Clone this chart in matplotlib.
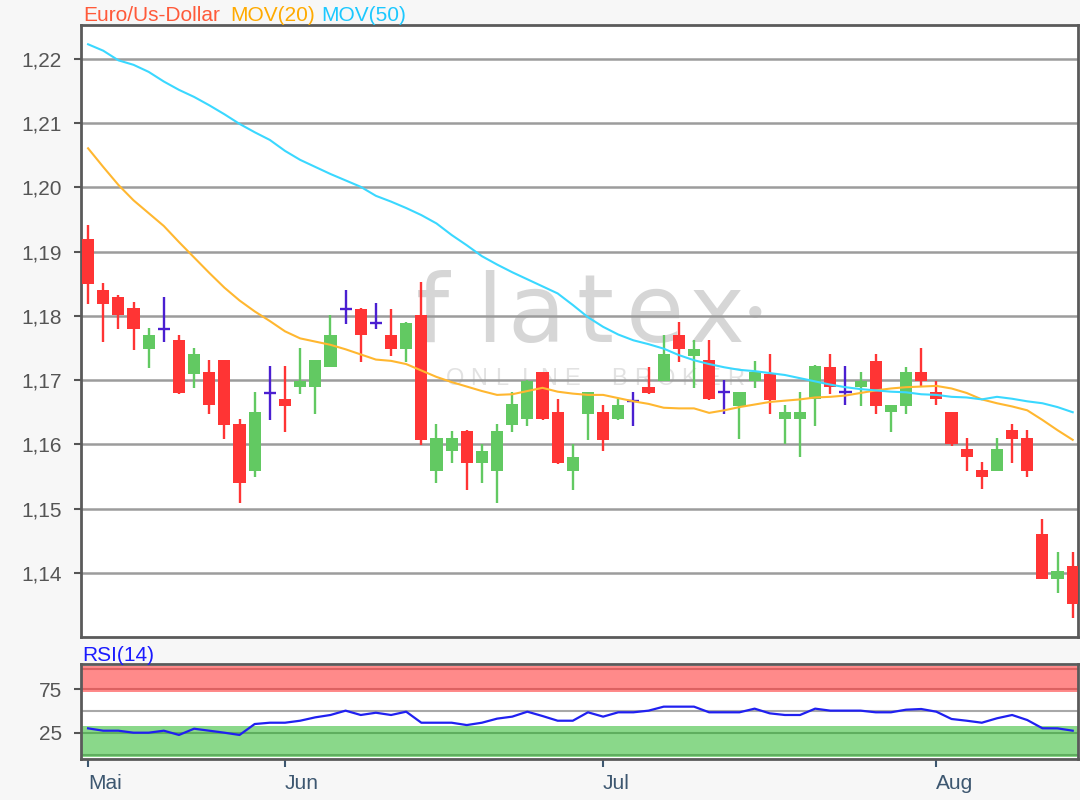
import numpy as np
import pandas as pd
import matplotlib
matplotlib.use('Agg')
import matplotlib.pyplot as plt
from matplotlib.ticker import FuncFormatter

# ---------------- data ----------------
dates = pd.bdate_range('2018-05-15', '2018-08-14')
month_labels = ['Mai', 'Jun', 'Jul', 'Aug']

open_ = [1.1920, 1.1840, 1.1830, 1.1812, 1.1748, 1.1780, 1.1762, 1.1710, 1.1712, 1.1731,
         1.1632, 1.1558, 1.1680, 1.1671, 1.1689, 1.1689, 1.1721, 1.1811, 1.1811, 1.1789,
         1.1771, 1.1748, 1.1802, 1.1559, 1.1589, 1.1621, 1.1571, 1.1559, 1.1630, 1.1639,
         1.1712, 1.1650, 1.1559, 1.1648, 1.1650, 1.1639, 1.1667, 1.1690, 1.1699, 1.1771,
         1.1738, 1.1731, 1.1681, 1.1660, 1.1698, 1.1710, 1.1639, 1.1639, 1.1670, 1.1721,
         1.1681, 1.1690, 1.1730, 1.1650, 1.1660, 1.1712, 1.1681, 1.1650, 1.1592, 1.1560,
         1.1559, 1.1622, 1.1610, 1.1461, 1.1391, 1.1411]
high = [1.1942, 1.1851, 1.1832, 1.1821, 1.1781, 1.1830, 1.1771, 1.1750, 1.1731, 1.1732,
        1.1640, 1.1681, 1.1722, 1.1722, 1.1750, 1.1732, 1.1802, 1.1840, 1.1812, 1.1820,
        1.1811, 1.1790, 1.1853, 1.1631, 1.1621, 1.1622, 1.1600, 1.1631, 1.1681, 1.1700,
        1.1713, 1.1671, 1.1600, 1.1682, 1.1662, 1.1670, 1.1681, 1.1721, 1.1771, 1.1790,
        1.1762, 1.1762, 1.1700, 1.1682, 1.1730, 1.1741, 1.1662, 1.1682, 1.1723, 1.1741,
        1.1722, 1.1712, 1.1740, 1.1662, 1.1721, 1.1750, 1.1699, 1.1651, 1.1610, 1.1573,
        1.1610, 1.1632, 1.1622, 1.1483, 1.1433, 1.1433]
low = [1.1819, 1.1760, 1.1779, 1.1747, 1.1719, 1.1760, 1.1679, 1.1688, 1.1648, 1.1608,
       1.1509, 1.1549, 1.1638, 1.1620, 1.1679, 1.1648, 1.1720, 1.1788, 1.1728, 1.1779,
       1.1738, 1.1728, 1.1599, 1.1540, 1.1571, 1.1529, 1.1540, 1.1509, 1.1620, 1.1629,
       1.1638, 1.1570, 1.1529, 1.1607, 1.1589, 1.1638, 1.1629, 1.1679, 1.1699, 1.1728,
       1.1688, 1.1669, 1.1647, 1.1608, 1.1688, 1.1647, 1.1600, 1.1580, 1.1629, 1.1679,
       1.1661, 1.1660, 1.1647, 1.1620, 1.1647, 1.1690, 1.1661, 1.1598, 1.1559, 1.1531,
       1.1558, 1.1571, 1.1549, 1.1390, 1.1369, 1.1329]
close = [1.1850, 1.1819, 1.1801, 1.1779, 1.1771, 1.1780, 1.1680, 1.1740, 1.1661, 1.1630,
         1.1540, 1.1650, 1.1680, 1.1660, 1.1699, 1.1731, 1.1771, 1.1811, 1.1770, 1.1789,
         1.1748, 1.1789, 1.1607, 1.1610, 1.1610, 1.1571, 1.1590, 1.1621, 1.1663, 1.1699,
         1.1639, 1.1571, 1.1581, 1.1681, 1.1607, 1.1662, 1.1667, 1.1680, 1.1740, 1.1748,
         1.1749, 1.1670, 1.1681, 1.1681, 1.1713, 1.1669, 1.1650, 1.1650, 1.1722, 1.1690,
         1.1681, 1.1698, 1.1660, 1.1661, 1.1712, 1.1698, 1.1671, 1.1600, 1.1580, 1.1549,
         1.1592, 1.1609, 1.1559, 1.1391, 1.1402, 1.1351]

mov20 = [1.2061, 1.2032, 1.2004, 1.1980, 1.1960, 1.1940, 1.1915, 1.1891, 1.1867, 1.1844,
         1.1824, 1.1807, 1.1792, 1.1776, 1.1765, 1.1760, 1.1755, 1.1748, 1.1740, 1.1732,
         1.1730, 1.1725, 1.1715, 1.1705, 1.1697, 1.1690, 1.1683, 1.1677, 1.1678, 1.1683,
         1.1688, 1.1682, 1.1679, 1.1677, 1.1677, 1.1672, 1.1667, 1.1663, 1.1657, 1.1656,
         1.1656, 1.1649, 1.1653, 1.1658, 1.1662, 1.1666, 1.1668, 1.1670, 1.1673, 1.1674,
         1.1676, 1.1680, 1.1684, 1.1687, 1.1689, 1.1690, 1.1691, 1.1687, 1.1680, 1.1670,
         1.1664, 1.1659, 1.1653, 1.1638, 1.1622, 1.1607]
mov50 = [1.2223, 1.2213, 1.2198, 1.2191, 1.2180, 1.2165, 1.2152, 1.2141, 1.2128, 1.2114,
         1.2099, 1.2086, 1.2074, 1.2057, 1.2043, 1.2032, 1.2021, 1.2011, 1.2001, 1.1987,
         1.1978, 1.1968, 1.1957, 1.1944, 1.1926, 1.1910, 1.1893, 1.1880, 1.1868, 1.1857,
         1.1846, 1.1835, 1.1817, 1.1798, 1.1783, 1.1771, 1.1762, 1.1756, 1.1749, 1.1739,
         1.1731, 1.1725, 1.1720, 1.1716, 1.1714, 1.1711, 1.1708, 1.1703, 1.1698, 1.1693,
         1.1689, 1.1686, 1.1684, 1.1682, 1.1681, 1.1678, 1.1677, 1.1674, 1.1673, 1.1670,
         1.1674, 1.1671, 1.1667, 1.1664, 1.1658, 1.1650]

rsi14 = [30.0, 27.3, 27.3, 25.0, 25.0, 27.3, 22.4, 29.6, 27.3, 25.0,
         22.4, 35.0, 36.5, 36.5, 38.8, 42.7, 45.4, 50.4, 45.4, 48.0,
         45.4, 49.2, 36.5, 36.5, 36.5, 33.8, 36.5, 41.2, 43.5, 49.2,
         44.2, 38.8, 38.8, 48.5, 43.5, 48.5, 48.5, 50.4, 55.0, 55.0,
         55.0, 48.5, 48.5, 48.5, 52.7, 47.3, 45.4, 45.4, 52.7, 50.4,
         50.4, 50.4, 48.5, 48.5, 51.5, 52.3, 49.2, 40.8, 38.8, 36.5,
         41.6, 45.4, 39.6, 30.1, 30.0, 27.3]

price_ticks = [1.14, 1.15, 1.16, 1.17, 1.18, 1.19, 1.20, 1.21, 1.22]
rsi_ticks = [25, 75]

# ---------------- figure ----------------
plt.rcParams['font.family'] = ['Liberation Sans', 'DejaVu Sans']
W, H = 1080, 800
FS = 15
fig = plt.figure(figsize=(W / 100, H / 100), dpi=100, facecolor='#f7f7f7')


def rect(l, t, r, b):
    return [l / W, 1 - b / H, (r - l) / W, (b - t) / H]


ax = fig.add_axes(rect(80.5, 25, 1078, 637))
axr = fig.add_axes(rect(80.5, 664.3, 1078, 759), sharex=ax)

x = np.arange(len(dates))
o = np.array(open_)
c = np.array(close)
h = np.array(high)
l = np.array(low)
up = c > o
dn = c < o
eq = c == o

red, green, blue = '#ff3434', '#62c962', '#4a1fd1'
cols = np.where(up, green, np.where(dn, red, blue))


# watermark
def px2ax(px, py):
    return ((px - 80.5) / (1078 - 80.5), (637 - py) / (637 - 25))


for ch, px in zip('flatex', [432, 489, 536, 595, 655, 716]):
    ax.text(*px2ax(px, 342), ch, transform=ax.transAxes, fontsize=68,
            color='#d6d6d6', ha='center', va='baseline',
            zorder=0.2, family='DejaVu Sans')
ax.text(*px2ax(755, 328), '•', transform=ax.transAxes, fontsize=30,
        color='#d6d6d6', ha='center', va='baseline', zorder=0.2, family='DejaVu Sans')
for k, ch in enumerate('ONLINE BROKER'):
    ax.text(*px2ax(455 + 23.4 * k, 385), ch, transform=ax.transAxes, fontsize=17,
            color='#e2e2e2', ha='center', va='baseline', zorder=0.2)

ax.vlines(x, l, h, colors=cols, lw=1.7, zorder=2)
ax.bar(x[up], (c - o)[up], bottom=o[up], width=0.8, color=green, lw=0, zorder=3)
ax.bar(x[dn], (c - o)[dn], bottom=o[dn], width=0.8, color=red, lw=0, zorder=3)
ax.hlines(c[eq], x[eq] - 0.4, x[eq] + 0.4, colors=blue, lw=1.7, zorder=3)

ax.plot(x, mov20, color='#ffb730', lw=1.5, zorder=4)
ax.plot(x, mov50, color='#3ad8ff', lw=1.5, zorder=4)

ax.set_xlim(-0.5, 65.35)
ax.set_ylim(1.1300, 1.2253)
ax.set_yticks(price_ticks)
ax.yaxis.set_major_formatter(FuncFormatter(lambda v, p: f'{v:.2f}'.replace('.', ',')))
ax.set_axisbelow(True)
ax.grid(axis='y', color='#9c9c9c', lw=1.8)
ax.tick_params(axis='y', length=5, width=1.5, color='#555555', pad=8.5,
               labelsize=FS, labelcolor='#555555')
ax.tick_params(axis='x', bottom=False, labelbottom=False)

# RSI panel
axr.axhspan(72.2, 101.8, color='#ff8a8a', lw=0, zorder=0.3)
axr.axhspan(-3.3, 32.7, color='#8ad88a', lw=0, zorder=0.3)
for yv, cl in [(98, '#dc6262'), (75, '#dc6262'), (50, '#a8a8a8'),
               (25, '#5fae5f'), (-0.7, '#5fae5f')]:
    axr.axhline(yv, color=cl, lw=1.5, zorder=0.5)
axr.plot(x, rsi14, color='#2020f0', lw=1.6, zorder=3)
axr.set_ylim(-5.3, 103.8)
axr.set_yticks(rsi_ticks)
axr.tick_params(axis='y', length=5, width=1.5, color='#555555', pad=8.5,
                labelsize=FS, labelcolor='#555555')

month_idx = [int(np.where(dates.month == m)[0][0]) for m in sorted(set(dates.month))]
axr.set_xticks(month_idx)
axr.set_xticklabels(month_labels[:len(month_idx)], ha='left')
axr.tick_params(axis='x', length=6, width=1.5, color='#3d5770', labelcolor='#3d5770',
                labelsize=FS, pad=5)

for a in (ax, axr):
    a.set_facecolor('white')
    for s in a.spines.values():
        s.set_color('#5a5a5a')
        s.set_linewidth(2)

# titles
fig.text(83 / W, 1 - 21 / H, 'Euro/Us-Dollar', color='#ff5a3a', fontsize=FS,
         va='baseline', ha='left')
fig.text(230 / W, 1 - 21 / H, 'MOV(20)', color='#ffaa00', fontsize=FS,
         va='baseline', ha='left')
fig.text(321.7 / W, 1 - 21 / H, 'MOV(50)', color='#1cc8ff', fontsize=FS,
         va='baseline', ha='left')
fig.text(82.7 / W, 1 - 660.7 / H, 'RSI(14)', color='#1a1aff', fontsize=FS,
         va='baseline', ha='left')

fig.savefig('out.png', dpi=100, facecolor=fig.get_facecolor())
